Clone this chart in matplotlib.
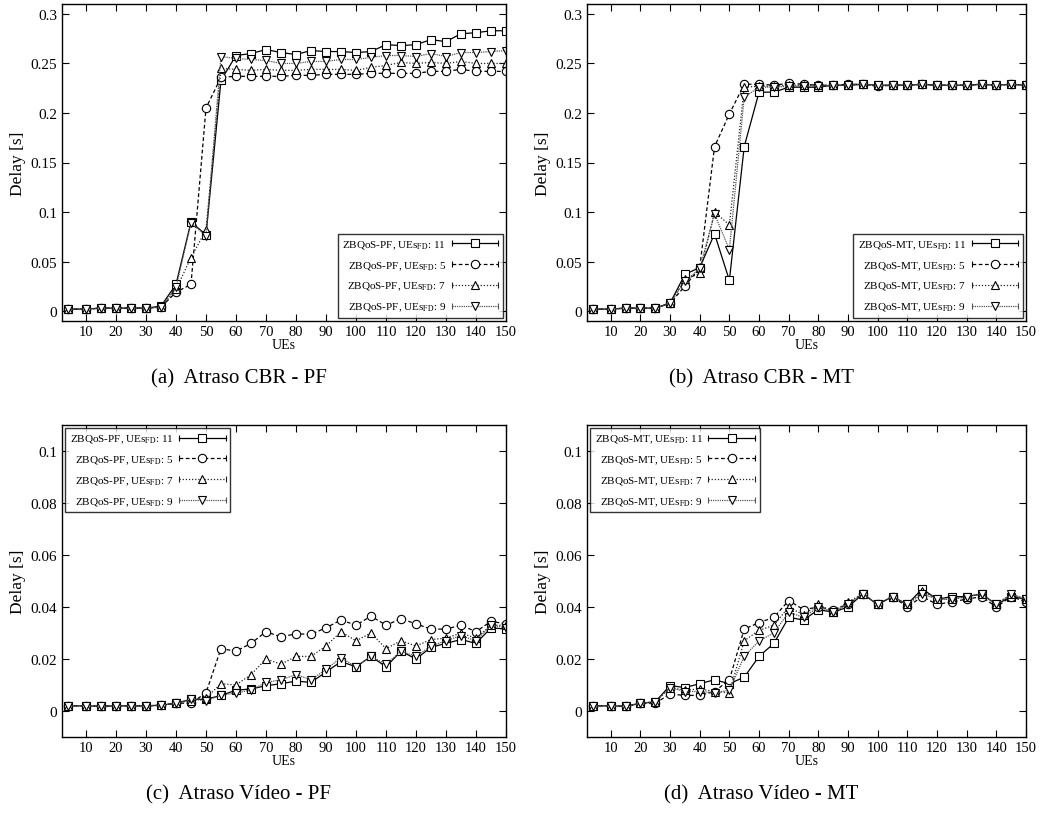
import matplotlib
matplotlib.use('Agg')
import matplotlib.pyplot as plt
from matplotlib.legend_handler import HandlerLine2D
from matplotlib.lines import Line2D

plt.rcParams['font.family'] = ['Liberation Serif', 'DejaVu Serif']
plt.rcParams['mathtext.fontset'] = 'stix'

# numero de UEs
ues = [4, 10, 15, 20, 25, 30, 35, 40, 45, 50, 55, 60, 65, 70, 75, 80, 85, 90,
       95, 100, 105, 110, 115, 120, 125, 130, 135, 140, 145, 150]

# (a) atraso CBR - PF
cbr_pf_11 = [0.002, 0.002, 0.003, 0.003, 0.003, 0.003, 0.005, 0.027, 0.090, 0.077,
             0.233, 0.258, 0.260, 0.264, 0.261, 0.259, 0.263, 0.262, 0.262, 0.261,
             0.262, 0.269, 0.268, 0.269, 0.274, 0.272, 0.280, 0.281, 0.283, 0.283]
cbr_pf_5 = [0.002, 0.002, 0.003, 0.003, 0.003, 0.003, 0.004, 0.019, 0.027, 0.205,
            0.236, 0.237, 0.237, 0.237, 0.237, 0.238, 0.238, 0.239, 0.239, 0.239,
            0.240, 0.240, 0.240, 0.240, 0.242, 0.242, 0.244, 0.242, 0.242, 0.242]
cbr_pf_7 = [0.002, 0.002, 0.003, 0.003, 0.003, 0.003, 0.004, 0.022, 0.054, 0.082,
            0.245, 0.244, 0.243, 0.244, 0.243, 0.243, 0.244, 0.244, 0.244, 0.243,
            0.246, 0.248, 0.251, 0.250, 0.251, 0.250, 0.252, 0.250, 0.250, 0.250]
cbr_pf_9 = [0.002, 0.002, 0.003, 0.003, 0.003, 0.003, 0.004, 0.024, 0.089, 0.076,
            0.257, 0.255, 0.254, 0.253, 0.250, 0.250, 0.252, 0.252, 0.254, 0.254,
            0.256, 0.258, 0.258, 0.257, 0.260, 0.257, 0.261, 0.261, 0.262, 0.263]

# (b) atraso CBR - MT
cbr_mt_11 = [0.002, 0.002, 0.003, 0.003, 0.003, 0.008, 0.037, 0.044, 0.078, 0.031,
             0.166, 0.221, 0.221, 0.226, 0.226, 0.226, 0.228, 0.228, 0.229, 0.228,
             0.228, 0.228, 0.229, 0.228, 0.228, 0.228, 0.229, 0.228, 0.229, 0.228]
cbr_mt_5 = [0.002, 0.002, 0.003, 0.003, 0.003, 0.008, 0.025, 0.044, 0.166, 0.199,
            0.229, 0.229, 0.228, 0.230, 0.229, 0.228, 0.228, 0.229, 0.229, 0.227,
            0.228, 0.228, 0.229, 0.228, 0.228, 0.228, 0.229, 0.228, 0.229, 0.228]
cbr_mt_7 = [0.002, 0.002, 0.003, 0.003, 0.003, 0.008, 0.032, 0.038, 0.100, 0.087,
            0.226, 0.227, 0.227, 0.228, 0.228, 0.228, 0.228, 0.228, 0.229, 0.228,
            0.228, 0.228, 0.229, 0.228, 0.228, 0.228, 0.229, 0.228, 0.229, 0.228]
cbr_mt_9 = [0.002, 0.002, 0.003, 0.003, 0.003, 0.008, 0.030, 0.043, 0.098, 0.062,
            0.216, 0.226, 0.226, 0.227, 0.227, 0.227, 0.228, 0.228, 0.229, 0.228,
            0.228, 0.228, 0.229, 0.228, 0.228, 0.228, 0.229, 0.228, 0.229, 0.228]

# (c) atraso video - PF
vid_pf_11 = [0.002, 0.002, 0.0018, 0.002, 0.002, 0.002, 0.0022, 0.003, 0.0045, 0.0045,
             0.006, 0.008, 0.0085, 0.0097, 0.0105, 0.0115, 0.011, 0.015, 0.019, 0.017,
             0.021, 0.017, 0.023, 0.020, 0.0245, 0.026, 0.0275, 0.026, 0.032, 0.0315]
vid_pf_5 = [0.002, 0.002, 0.0018, 0.002, 0.002, 0.002, 0.0022, 0.003, 0.003, 0.007,
            0.024, 0.023, 0.026, 0.0305, 0.0285, 0.0297, 0.0295, 0.032, 0.035, 0.033,
            0.0365, 0.033, 0.0355, 0.0335, 0.0315, 0.0315, 0.033, 0.0305, 0.0345, 0.0335]
vid_pf_7 = [0.002, 0.002, 0.0018, 0.002, 0.002, 0.002, 0.0022, 0.003, 0.004, 0.005,
            0.0105, 0.010, 0.014, 0.020, 0.018, 0.021, 0.021, 0.025, 0.0305, 0.027,
            0.030, 0.024, 0.027, 0.025, 0.0275, 0.028, 0.030, 0.028, 0.033, 0.033]
vid_pf_9 = [0.002, 0.002, 0.0018, 0.002, 0.002, 0.002, 0.0022, 0.003, 0.0045, 0.004,
            0.006, 0.007, 0.008, 0.011, 0.012, 0.014, 0.012, 0.016, 0.0205, 0.017,
            0.021, 0.018, 0.023, 0.021, 0.025, 0.027, 0.029, 0.027, 0.033, 0.032]

# (d) atraso video - MT
vid_mt_11 = [0.002, 0.002, 0.0018, 0.003, 0.0035, 0.0098, 0.009, 0.0105, 0.012, 0.0105,
             0.013, 0.021, 0.026, 0.036, 0.035, 0.039, 0.038, 0.040, 0.045, 0.041,
             0.044, 0.041, 0.047, 0.043, 0.044, 0.044, 0.045, 0.041, 0.044, 0.043]
vid_mt_5 = [0.002, 0.002, 0.0018, 0.003, 0.003, 0.0065, 0.006, 0.006, 0.0075, 0.012,
            0.0315, 0.034, 0.036, 0.0425, 0.039, 0.040, 0.039, 0.041, 0.045, 0.041,
            0.044, 0.040, 0.044, 0.041, 0.042, 0.043, 0.044, 0.040, 0.044, 0.042]
vid_mt_7 = [0.002, 0.002, 0.0018, 0.003, 0.0035, 0.009, 0.008, 0.0085, 0.0075, 0.007,
            0.027, 0.031, 0.033, 0.040, 0.037, 0.041, 0.038, 0.042, 0.045, 0.041,
            0.044, 0.041, 0.046, 0.043, 0.043, 0.044, 0.045, 0.041, 0.045, 0.043]
vid_mt_9 = [0.002, 0.002, 0.0018, 0.003, 0.0035, 0.009, 0.0075, 0.0075, 0.007, 0.008,
            0.021, 0.027, 0.030, 0.038, 0.036, 0.040, 0.038, 0.041, 0.045, 0.041,
            0.044, 0.041, 0.045, 0.043, 0.043, 0.044, 0.045, 0.041, 0.045, 0.043]

ues_fd = ['11', '5', '7', '9']
captions = ['(a)  Atraso CBR - PF', '(b)  Atraso CBR - MT',
            '(c)  Atraso Vídeo - PF', '(d)  Atraso Vídeo - MT']

# estilos gnuplot-like
styles = [
    dict(color='black', ls='-', marker='s'),
    dict(color='black', ls=(0, (3, 2)), marker='o'),
    dict(color='#222222', ls=(0, (1, 1.5)), marker='^'),
    dict(color='#555555', ls=(0, (1, 0.8)), marker='v'),
]


class CapHandler(HandlerLine2D):
    # linha da legenda com pequenas barras nas pontas (estilo gnuplot)
    def create_artists(self, legend, orig_handle, xdescent, ydescent,
                       width, height, fontsize, trans):
        arts = super().create_artists(legend, orig_handle, xdescent, ydescent,
                                      width, height, fontsize, trans)
        y = (height - ydescent) / 2
        caps = Line2D([-xdescent, -xdescent + width], [y, y], ls='none',
                      marker='|', markersize=5, color=orig_handle.get_color(),
                      markeredgewidth=0.8, transform=trans)
        return arts + [caps]


fig = plt.figure(figsize=(10.47, 8.2), dpi=100)
W, H = 1047, 820
boxes = [(62, 5, 506, 322), (587, 5, 1026, 322),
         (62, 426, 506, 738), (587, 426, 1026, 738)]

panels = [
    ('PF', [cbr_pf_11, cbr_pf_5, cbr_pf_7, cbr_pf_9]),
    ('MT', [cbr_mt_11, cbr_mt_5, cbr_mt_7, cbr_mt_9]),
    ('PF', [vid_pf_11, vid_pf_5, vid_pf_7, vid_pf_9]),
    ('MT', [vid_mt_11, vid_mt_5, vid_mt_7, vid_mt_9]),
]

for i, ((sched, series), (x0, y0, x1, y1)) in enumerate(zip(panels, boxes)):
    ax = fig.add_axes([x0 / W, 1 - y1 / H, (x1 - x0) / W, (y1 - y0) / H])
    for vals, fd, st in zip(series, ues_fd, styles):
        ax.plot(ues, vals, color=st['color'], ls=st['ls'], lw=0.9,
                marker=st['marker'], ms=6, mfc='white', mec='black', mew=0.8,
                label='ZBQoS-%s, UEs$_{\\mathrm{FD}}$: %s' % (sched, fd))
    ax.set_xlim(2, 150)
    ax.set_xticks(range(10, 151, 10))
    if i < 2:
        ax.set_ylim(-0.01, 0.31)
        ax.set_yticks([0, 0.05, 0.1, 0.15, 0.2, 0.25, 0.3])
        ax.set_yticklabels(['0', '0.05', '0.1', '0.15', '0.2', '0.25', '0.3'])
        loc = 'lower right'
    else:
        ax.set_ylim(-0.01, 0.11)
        ax.set_yticks([0, 0.02, 0.04, 0.06, 0.08, 0.1])
        ax.set_yticklabels(['0', '0.02', '0.04', '0.06', '0.08', '0.1'])
        loc = 'upper left'
    ax.tick_params(direction='in', top=True, right=True, length=5, width=0.8,
                   labelsize=11)
    ax.tick_params(axis='x', labelsize=10.5, pad=3)
    for s in ax.spines.values():
        s.set_linewidth(1.0)
    ax.set_xlabel('UEs', fontsize=10, labelpad=0)
    ax.set_ylabel('Delay [s]', fontsize=12.5, labelpad=3)
    leg = ax.legend(loc=loc, markerfirst=False, fontsize=8, frameon=True,
                    fancybox=False, edgecolor='black', handlelength=4.2,
                    handletextpad=0.5, labelspacing=0.75, borderpad=0.4,
                    borderaxespad=0.3, handler_map={Line2D: CapHandler()})
    leg.get_frame().set_linewidth(1.0)
    cx = ((x0 + x1) / 2 - 45) / W
    cy = 1 - (y1 + 57) / H
    fig.text(cx, cy, captions[i], ha='center', va='center', fontsize=15)

fig.savefig('out.png', dpi=100)
